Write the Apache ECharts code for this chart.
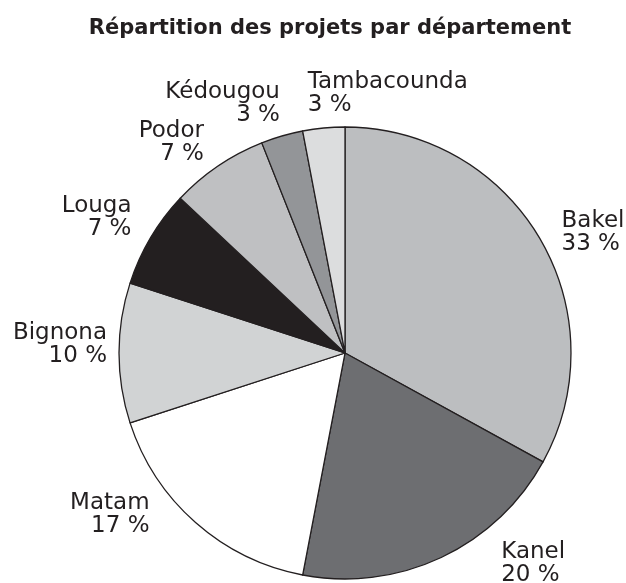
<!DOCTYPE html>
<html>
<head>
<meta charset="utf-8">
<script src="https://cdn.jsdelivr.net/npm/echarts@6/dist/echarts.min.js"></script>
<style>
  html, body { margin: 0; padding: 0; background: #fff; }
  #chart { width: 626px; height: 583px; }
</style>
</head>
<body>
<div id="chart"></div>
<script>
// départements et parts (%)
const departements = ['Bakel', 'Kanel', 'Matam', 'Bignona', 'Louga', 'Podor', 'Kédougou', 'Tambacounda']
const parts = [33, 20, 17, 10, 7, 7, 3, 3]
const couleurs = ['#bcbec0', '#6d6e71', '#ffffff', '#d1d3d4', '#231f20', '#bfc0c2', '#939598', '#dcddde']

// petits décalages des étiquettes (px)
const decalX = [17, 55, -41, -7, -14, -9, 3, -11]
const decalY = [-5, 6, -8, -8, -20, -24, -32, -34]

const chart = echarts.init(document.getElementById('chart'))

const option = {
  backgroundColor: '#fff',
  animation: false,
  title: {
    text: 'Répartition des projets par département',
    left: 325,
    textAlign: 'center',
    top: 13,
    textStyle: {
      fontFamily: 'DejaVu Sans',
      fontWeight: 'bold',
      fontSize: 21,
      color: '#231f20'
    }
  },
  series: [
    {
      type: 'pie',
      center: [345, 353],
      radius: 226,
      startAngle: 90,
      clockwise: true,
      avoidLabelOverlap: false,
      data: departements.map((nom, i) => ({
        name: nom,
        value: parts[i],
        itemStyle: { color: couleurs[i] }
      })),
      itemStyle: {
        borderColor: '#231f20',
        borderWidth: 1.3
      },
      label: {
        show: true,
        position: 'outside',
        formatter: (p) => p.name + '\n' + p.value + ' %',
        fontFamily: 'DejaVu Sans',
        fontSize: 23,
        lineHeight: 23,
        color: '#231f20'
      },
      labelLine: { show: false, length: 0, length2: 0 },
      labelLayout: (p) => {
        const lay = {
          dx: decalX[p.dataIndex],
          dy: decalY[p.dataIndex]
        }
        // Tambacounda est alignée à gauche dans l'original
        if (p.dataIndex === departements.length - 1) lay.align = 'left'
        return lay
      },
      emphasis: { disabled: true }
    }
  ]
}

chart.setOption(option)
</script>
</body>
</html>
